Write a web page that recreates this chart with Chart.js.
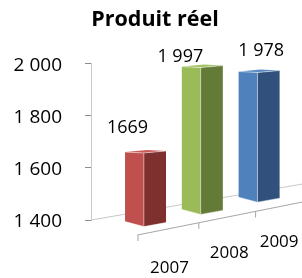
<!DOCTYPE html>
<html>
<head>
<meta charset="utf-8">
<script src="https://cdn.jsdelivr.net/npm/chart.js@4.4.0/dist/chart.umd.min.js"></script>
<style>
html, body { margin: 0; padding: 0; background: #fff; }
#wrap { width: 302px; height: 278px; position: relative; }
</style>
</head>
<body>
<div id="wrap"><canvas id="produitChart"></canvas></div>
<script>
// donnees
const years = ['2007', '2008', '2009'];
const produitReel = [1669, 1997, 1978];
const valueLabels = ['1669', '1 997', '1 978'];
const yTicks = [1400, 1600, 1800, 2000];

// couleurs des faces (avant, cote, dessus)
const faceColors = [
    { front: '#C0504D', side: '#7E302E', top: '#C85B58' },
    { front: '#9BBB59', side: '#647A37', top: '#A5C366' },
    { front: '#4F81BD', side: '#31517C', top: '#5B8BC5' }
];
// decalage des etiquettes (valeurs et annees)
const valueShift = [[-18, -22], [-22, -8], [2, -19]];
const yearShift = [[24, 48], [27, 33], [20, 22]];

function formatNumber(v) {
    return String(v).replace(/\B(?=(\d{3})+(?!\d))/g, ' ');
}

const box3d = {
    id: 'box3d',
    afterDatasetsDraw(chart) {
        const ctx = chart.ctx;
        const area = chart.chartArea;
        const xs = chart.scales.x;
        const meta = chart.getDatasetMeta(0);
        ctx.save();

        // sol : ligne arriere
        ctx.strokeStyle = '#C8C8C8';
        ctx.lineWidth = 1;
        ctx.beginPath();
        ctx.moveTo(area.left, area.bottom);
        ctx.lineTo(302, area.bottom - 0.17 * (302 - area.left));
        ctx.stroke();

        // sol : ligne avant avec graduations
        const x0 = xs.getPixelForValue(0) - 8;
        const y0 = area.bottom + 15;
        ctx.strokeStyle = '#A6A6A6';
        ctx.beginPath();
        ctx.moveTo(x0, y0);
        ctx.lineTo(302, y0 - 0.2 * (302 - x0));
        ctx.stroke();
        years.forEach(function (y, i) {
            const tx = i === 0 ? x0 : xs.getPixelForValue(i) - 4;
            const ty = y0 - 0.2 * (tx - x0);
            ctx.beginPath();
            ctx.moveTo(tx + 0.5, ty);
            ctx.lineTo(tx + 0.5, ty + 6);
            ctx.stroke();
        });

        const floorY = function (x) {
            return area.bottom + 7 - 0.215 * (x - area.left - 51);
        };

        meta.data.forEach(function (el, i) {
            const w = el.width;
            const L = el.x - w / 2;
            const R = el.x + w / 2;
            const C = L + 0.46 * w;
            const t = el.y;
            const bC = floorY(C);
            const bL = bC - 5;
            const bR = bC - 4;
            const col = faceColors[i];

            // face avant
            ctx.fillStyle = col.front;
            ctx.beginPath();
            ctx.moveTo(L, t + 2);
            ctx.lineTo(C, t + 3);
            ctx.lineTo(C, bC);
            ctx.lineTo(L, bL);
            ctx.closePath();
            ctx.fill();

            // face laterale
            ctx.fillStyle = col.side;
            ctx.beginPath();
            ctx.moveTo(C, t + 3);
            ctx.lineTo(R, t + 1);
            ctx.lineTo(R, bR);
            ctx.lineTo(C, bC);
            ctx.closePath();
            ctx.fill();

            // dessus
            ctx.fillStyle = col.top;
            ctx.beginPath();
            ctx.moveTo(L, t + 2);
            ctx.lineTo(L + R - C, t);
            ctx.lineTo(R, t + 1);
            ctx.lineTo(C, t + 3);
            ctx.closePath();
            ctx.fill();

            // aretes claires
            ctx.strokeStyle = 'rgba(255,255,255,0.55)';
            ctx.lineWidth = 0.8;
            ctx.beginPath();
            ctx.moveTo(L, t + 2);
            ctx.lineTo(C, t + 3);
            ctx.lineTo(R, t + 1);
            ctx.moveTo(C, t + 3);
            ctx.lineTo(C, bC);
            ctx.lineTo(L, bL);
            ctx.moveTo(C, bC);
            ctx.lineTo(R, bR);
            ctx.stroke();

            // etiquette de valeur
            ctx.fillStyle = '#000';
            ctx.font = '18px "Open Sans"';
            ctx.textAlign = 'center';
            ctx.textBaseline = 'middle';
            ctx.fillText(valueLabels[i], el.x + valueShift[i][0], t + valueShift[i][1]);

            // annee
            ctx.font = '17px "Open Sans"';
            ctx.fillText(years[i], xs.getPixelForValue(i) + yearShift[i][0], area.bottom + yearShift[i][1]);
        });
        ctx.restore();
    }
};

document.addEventListener('DOMContentLoaded', function () {
    const canvas = document.getElementById('produitChart');
    new Chart(canvas.getContext('2d'), {
        type: 'bar',
        data: {
            datasets: [{
                label: 'Produit réel',
                data: produitReel.map(function (v, i) { return { x: i, y: v }; }),
                backgroundColor: 'rgba(0,0,0,0)',
                borderWidth: 0,
                barThickness: 41
            }]
        },
        options: {
            responsive: true,
            maintainAspectRatio: false,
            animation: false,
            layout: { padding: { left: 10, right: 2, top: 0, bottom: 58 } },
            scales: {
                x: {
                    type: 'linear',
                    min: -0.96,
                    max: 2.72,
                    offset: false,
                    display: false,
                    afterFit: function (scale) {
                        scale.paddingLeft = 0;
                        scale.paddingRight = 0;
                    }
                },
                y: {
                    min: 1400,
                    max: 2000,
                    afterBuildTicks: function (scale) {
                        scale.ticks = yTicks.map(function (v) { return { value: v }; });
                    },
                    afterFit: function (scale) {
                        scale.width = 81;
                    },
                    grid: {
                        drawOnChartArea: false,
                        drawTicks: true,
                        tickLength: 6,
                        color: '#8C8C8C'
                    },
                    border: { display: true, color: '#C8C8C8' },
                    ticks: {
                        padding: 23,
                        labelOffset: 2,
                        color: '#000',
                        font: { family: 'Open Sans', size: 19 },
                        callback: function (v) { return formatNumber(v); }
                    }
                }
            },
            plugins: {
                legend: { display: false },
                tooltip: { enabled: false },
                title: {
                    display: true,
                    text: 'Produit réel',
                    color: '#000',
                    font: { family: 'Open Sans', size: 21.5, weight: 'bold' },
                    padding: { top: 7, bottom: 31 }
                }
            }
        },
        plugins: [box3d]
    });
});
</script>
</body>
</html>
